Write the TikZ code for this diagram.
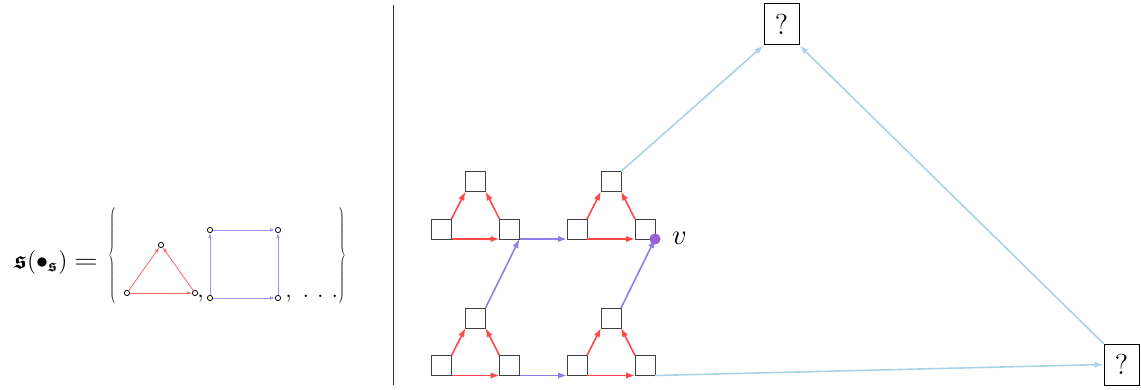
\documentclass[tikz,border=0pt]{standalone}
\usepackage{amsmath,amssymb,bm}
\usetikzlibrary{arrows.meta}
\definecolor{cred}{RGB}{255,72,72}
\definecolor{cpur}{RGB}{142,128,235}
\definecolor{cdot}{RGB}{150,100,210}
\definecolor{cblue}{RGB}{170,210,232}
\definecolor{lred}{RGB}{255,100,100}
\definecolor{lpur}{RGB}{160,145,245}
\begin{document}
\begin{tikzpicture}[x=0.5pt,y=-0.5pt,
  sq/.style={draw=black!75,line width=0.5pt,minimum size=10pt,inner sep=0pt,outer sep=0pt},
  qbox/.style={draw=black,line width=0.5pt,inner sep=0pt,minimum width=17.5pt,minimum height=20.5pt,font=\Large},
  tip/.style={-{Latex[length=4.5pt,width=3.2pt]}},
  redarr/.style={draw=cred,line width=0.8pt,tip},
  purarr/.style={draw=cpur,line width=0.8pt,tip},
  bluearr/.style={draw=cblue,line width=0.8pt,tip},
  vtx/.style={circle,draw=black,fill=white,inner sep=0pt,minimum size=2.6pt,line width=0.4pt},
  smalltip/.style={-{Latex[length=2.5pt,width=1.8pt]}},
  tred/.style={draw=lred,line width=0.4pt,smalltip},
  tpur/.style={draw=lpur,line width=0.4pt,smalltip},
  bracenode/.style={inner sep=0pt,text=black!80}
]
\useasboundingbox (0,0) rectangle (1141,390);
% separator
\draw[line width=0.5pt,black!80] (393,5) -- (393,385);
% left formula
\node[anchor=base,font=\fontsize{12.5}{15}\selectfont] (lhs) at (56,268) {$\bm{\mathfrak{s}}(\bullet_{\bm{\mathfrak{s}}})\mathrel{\scalebox{1.3}[1.05]{$=$}}$};
% braces
\node[bracenode] (lb) at (113,255.5) {\scalebox{0.45}[1]{$\left\{\vrule height 21.5pt depth 21.5pt width 0pt\right.$}};
\node[bracenode] (rb) at (342,255.5) {\scalebox{0.45}[1]{$\left.\vrule height 21.5pt depth 21.5pt width 0pt\right\}$}};
% small triangle
\node[vtx] (t1) at (127,293) {};
\node[vtx] (t2) at (161,245) {};
\node[vtx] (t3) at (195,293) {};
\draw[tred] (t1) -- (t3);
\draw[tred] (t1) -- (t2);
\draw[tred] (t3) -- (t2);
\node[anchor=base west,inner sep=0pt,font=\large] (c1) at (197,297) {$,$};
% small square
\node[vtx] (s1) at (210,298) {};
\node[vtx] (s2) at (278,298) {};
\node[vtx] (s3) at (210,230) {};
\node[vtx] (s4) at (278,230) {};
\draw[tpur] (s1) -- (s2);
\draw[tpur] (s1) -- (s3);
\draw[tpur] (s3) -- (s4);
\draw[tpur] (s2) -- (s4);
\node[anchor=base west,inner sep=0pt,font=\large] (c2) at (285,297) {$,\mkern5mu.\mkern6mu.\mkern6mu.$};
% right side squares
\foreach \n/\x/\y in {A/441.5/365.5, B/577/365.5, C/441.5/229, D/577/229}{
  \node[sq] (\n1) at (\x,\y) {};
  \node[sq] (\n2) at (\x+34,\y-47.5) {};
  \node[sq] (\n3) at (\x+68,\y) {};
  \draw[redarr] (\n1.south east) -- (\n3.south west);
  \draw[redarr] (\n1.north east) -- (\n2.south west);
  \draw[redarr] (\n3.north west) -- (\n2.south east);
}
\node[qbox] (q1) at (781.5,24.5) {?};
\node[qbox] (q2) at (1121.5,364.5) {?};
% purple connectors
\draw[purarr] (A3.south east) -- (B1.south west);
\draw[purarr] (A2.north east) -- (C3.south east);
\draw[purarr] (C3.south east) -- (D1.south west);
\draw[purarr] (B2.north east) -- (D3.south east);
\coordinate (v) at (D3.south east);
\fill[cdot] (v) circle (2.8pt);
\node[anchor=base west,font=\Large] (vl) at (665,244) {$v$};
% blue connectors
\draw[bluearr] (D2.north east) -- (q1.south west);
\draw[bluearr] (B3.south east) -- (q2.west);
\draw[bluearr] (q2.north west) -- (q1.south east);
\end{tikzpicture}
\end{document}
